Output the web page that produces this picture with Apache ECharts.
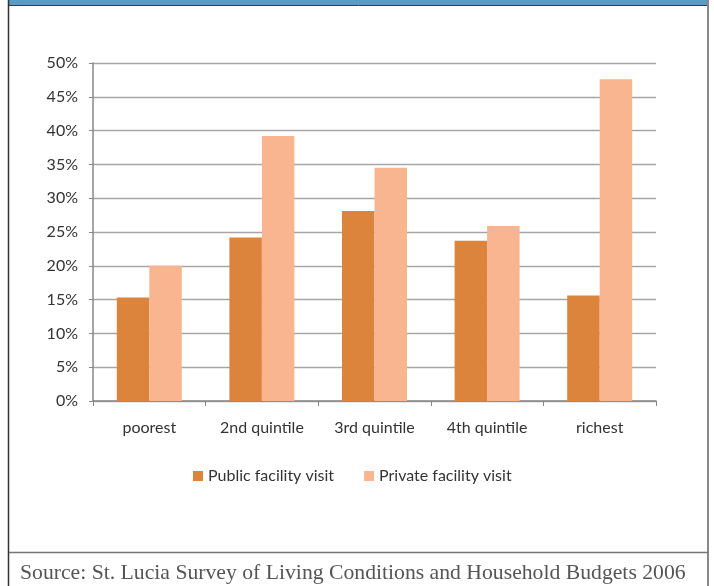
<!DOCTYPE html>
<html>
<head>
<meta charset="utf-8">
<script src="https://cdn.jsdelivr.net/npm/echarts@6/dist/echarts.min.js"></script>
<style>
  html, body { margin: 0; padding: 0; background: #fff; }
  #chart { width: 714px; height: 586px; }
</style>
</head>
<body>
<div id="chart"></div>
<script>
const categories = ['poorest', '2nd quintile', '3rd quintile', '4th quintile', 'richest']
const publicValues = [15.3, 24.2, 28.1, 23.7, 15.6]
const privateValues = [20.0, 39.2, 34.5, 25.9, 47.6]
const seriesNames = ['Public facility visit', 'Private facility visit']
const sourceText = 'Source: St. Lucia Survey of Living Conditions and Household Budgets 2006'

const labelFont = 'Lato, "Open Sans", sans-serif'

const chart = echarts.init(document.getElementById('chart'))

const option = {
  animation: false,
  title: {
    text: sourceText,
    left: 15,
    top: 557,
    textStyle: {
      fontFamily: '"Liberation Serif", serif',
      fontWeight: 'normal',
      fontSize: 21.7,
      color: '#555'
    }
  },
  legend: {
    data: seriesNames,
    left: 188,
    top: 463,
    icon: 'rect',
    itemWidth: 10,
    itemHeight: 10,
    itemGap: 30,
    textStyle: { fontFamily: labelFont, fontSize: 16, color: '#333' }
  },
  grid: {
    left: 93,
    right: 58,
    top: 63,
    bottom: 185
  },
  xAxis: {
    type: 'category',
    data: categories,
    axisLine: { lineStyle: { color: '#888', width: 1.5 } },
    axisTick: { show: true, length: 5, interval: 0, lineStyle: { color: '#888' } },
    axisLabel: { fontFamily: labelFont, fontSize: 16, color: '#333', margin: 19, interval: 0 }
  },
  yAxis: {
    type: 'value',
    min: 0,
    max: 50,
    interval: 5,
    axisLine: { show: true, lineStyle: { color: '#888', width: 1.5 } },
    axisTick: { show: true, length: 4, lineStyle: { color: '#888' } },
    axisLabel: { fontFamily: labelFont, fontSize: 16, color: '#333', margin: 15, formatter: '{value}%' },
    splitLine: { lineStyle: { color: '#a6a6a6', width: 1.3 } }
  },
  series: [
    {
      name: seriesNames[0],
      type: 'bar',
      data: publicValues,
      barWidth: 32.5,
      barGap: '0%',
      itemStyle: { color: '#dc843c' }
    },
    {
      name: seriesNames[1],
      type: 'bar',
      data: privateValues,
      barWidth: 32.5,
      itemStyle: { color: '#f9b58f' }
    }
  ],
  graphic: [
    // header band
    { type: 'rect', shape: { x: 9, y: 0, width: 699, height: 5 }, style: { fill: '#5a9ac3' } },
    { type: 'line', shape: { x1: 9, y1: 5.5, x2: 708, y2: 5.5 }, style: { stroke: '#2f3e4c', lineWidth: 1 } },
    // frame
    { type: 'line', shape: { x1: 8.5, y1: 0, x2: 8.5, y2: 586 }, style: { stroke: '#333', lineWidth: 1.5 } },
    { type: 'line', shape: { x1: 708, y1: 0, x2: 708, y2: 586 }, style: { stroke: '#888', lineWidth: 2 } },
    { type: 'line', shape: { x1: 9, y1: 552.5, x2: 708, y2: 552.5 }, style: { stroke: '#777', lineWidth: 1.5 } }
  ]
}

chart.setOption(option)
</script>
</body>
</html>
